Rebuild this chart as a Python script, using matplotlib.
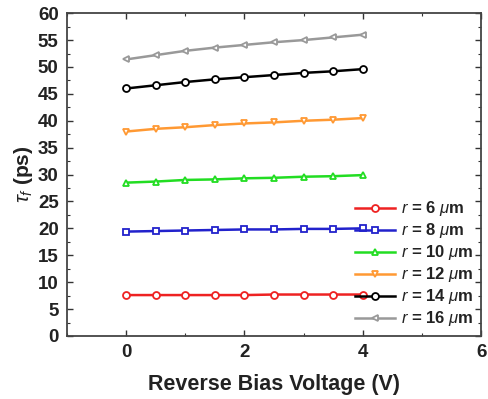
import matplotlib
matplotlib.use("Agg")
import matplotlib.pyplot as plt
from matplotlib.ticker import MultipleLocator

plt.rcParams['font.family'] = ['Liberation Sans', 'DejaVu Sans']
plt.rcParams['mathtext.fontset'] = 'custom'
plt.rcParams['mathtext.rm'] = 'Liberation Sans'
plt.rcParams['mathtext.it'] = 'Liberation Sans:italic'
plt.rcParams['mathtext.bf'] = 'Liberation Sans:bold'

voltage = [0, 0.5, 1.0, 1.5, 2.0, 2.5, 3.0, 3.5, 4.0]
tau_r6 = [7.6, 7.6, 7.6, 7.6, 7.6, 7.7, 7.7, 7.7, 7.7]
tau_r8 = [19.4, 19.5, 19.6, 19.7, 19.8, 19.8, 19.9, 19.9, 20.0]
tau_r10 = [28.5, 28.7, 29.0, 29.1, 29.3, 29.4, 29.6, 29.7, 29.9]
tau_r12 = [38.0, 38.5, 38.8, 39.2, 39.5, 39.7, 40.0, 40.2, 40.5]
tau_r14 = [46.0, 46.6, 47.2, 47.7, 48.1, 48.5, 48.9, 49.2, 49.6]
tau_r16 = [51.4, 52.2, 53.0, 53.6, 54.1, 54.6, 55.0, 55.5, 56.0]

radii = [6, 8, 10, 12, 14, 16]
series = [tau_r6, tau_r8, tau_r10, tau_r12, tau_r14, tau_r16]
colors = ['#ee2222', '#2222cc', '#22dd22', '#ff9933', '#000000', '#999999']
markers = ['o', 's', '^', 'v', 'o', '<']

fig = plt.figure(figsize=(4.89, 3.99), dpi=100)
ax = fig.add_axes([0.137, 0.158, 0.847, 0.809])

for r, y, c, m in zip(radii, series, colors, markers):
    ax.plot(voltage, y, color=c, marker=m, markersize=5, markerfacecolor='white',
            markeredgecolor=c, markeredgewidth=1.3, linewidth=1.8,
            label=r'$r$ = %d $\mu$m' % r)

ax.set_xlim(-1, 6)
ax.set_ylim(0, 60)
ax.xaxis.set_major_locator(MultipleLocator(2))
ax.xaxis.set_minor_locator(MultipleLocator(1))
ax.yaxis.set_major_locator(MultipleLocator(5))
ax.yaxis.set_minor_locator(MultipleLocator(2.5))
ax.tick_params(which='both', direction='in', top=True, right=True, color='#333333')
ax.tick_params(which='major', length=4, width=1, labelsize=13.5, pad=6)
ax.tick_params(which='minor', length=2.5, width=0.8)
for lab in ax.get_xticklabels() + ax.get_yticklabels():
    lab.set_fontweight('bold')
    lab.set_color('#222222')
for s in ax.spines.values():
    s.set_color('#444444')
    s.set_linewidth(1.3)

ax.set_xlabel('Reverse Bias Voltage (V)', fontsize=15.5, fontweight='bold', color='#222222', labelpad=9)
ax.set_ylabel(r'$\tau_f$ (ps)', fontsize=15, fontweight='bold', color='#222222', labelpad=2)

leg = ax.legend(loc='lower right', frameon=False, fontsize=12, handlelength=2.35,
                handletextpad=0.4, labelspacing=0.18, borderaxespad=0.05)
for t in leg.get_texts():
    t.set_fontweight('bold')
    t.set_color('#222222')

fig.savefig('out.png', dpi=100)
